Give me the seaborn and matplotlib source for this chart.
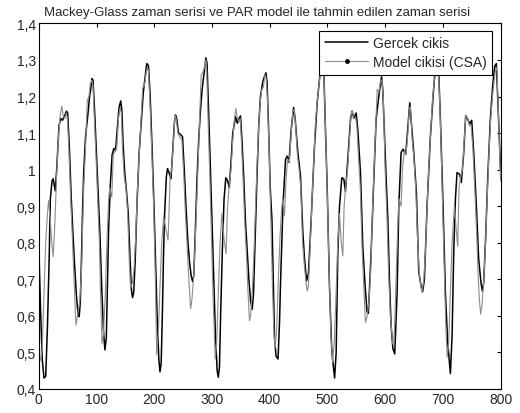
import numpy as np
import pandas as pd
import seaborn as sns
import matplotlib.pyplot as plt
from matplotlib.lines import Line2D
from matplotlib.ticker import FuncFormatter

# values (time step, value)
gercek_t = [0, 3, 6, 9, 12, 15, 18, 20, 23, 25, 28.5, 31, 35, 38, 41, 44, 48, 50, 53, 56, 59, 62, 65, 68, 70,
            72, 74, 76, 78, 81, 85, 88, 90, 92, 94, 97, 100, 103, 106, 109, 112, 114.5, 117, 119, 121, 124, 127,
            130, 133, 136, 139, 142, 144, 146, 149, 152, 155, 158, 160.5, 162.5, 164.5, 167, 170, 174, 178, 181,
            184, 187, 190, 193, 196, 199, 202, 205, 208, 210, 212, 214, 216, 218, 221, 223, 226, 229, 232, 235,
            237, 239, 242, 245, 249, 252, 255, 258, 261, 264, 266.5, 268.5, 271, 274, 277, 280, 283, 286, 289.5,
            291.5, 294, 297, 300, 303, 306, 309, 311, 313, 315, 318, 321, 324, 327, 330, 333, 336, 341, 344, 347,
            349.5, 352, 355, 358, 361, 364, 367, 369.7, 372, 375, 378, 381, 384, 388, 391, 393.5, 395.5, 398, 401,
            404, 408.4, 411, 414.5, 417, 419, 423, 427.5, 430.4, 433.5, 437.3, 441.5, 444.2, 448.8, 453.4, 457.5,
            460.4, 464, 467.3, 471.9, 477.7, 482.3, 486.3, 490.5, 494, 496.1, 499.6, 503.6, 507.7, 512.5, 515.2,
            518.1, 521, 525, 528.5, 531.3, 535.4, 540, 542.9, 545.8, 549.8, 552.7, 557.3, 561.3, 565.4, 568.8,
            571, 575.8, 580.4, 584.4, 589, 593.8, 595.9, 601.7, 604.6, 607.5, 610.4, 613.5, 616.7, 620.8, 623.7,
            627.7, 631.2, 635.8, 639.2, 642.7, 645, 649.6, 654.2, 658.3, 662.3, 665, 668.1, 672.7, 678.5, 683.1,
            686, 689.5, 693, 695.8, 700.4, 704.4, 708.5, 713.1, 716, 718.9, 721.8, 724.6, 729.3, 732.1, 736.2,
            739.6, 743.1, 746.6, 750, 753.5, 758.1, 762.1, 766.2, 768.5, 770.8, 774.3, 777.7, 782.3, 786.4,
            789.8, 792.7, 795.6, 800]
gercek_v = [0.79, 0.62, 0.48, 0.43, 0.435, 0.57, 0.76, 0.92, 0.97, 0.975, 0.942, 1.0, 1.12, 1.14, 1.135, 1.145,
            1.16, 1.155, 1.06, 0.93, 0.83, 0.74, 0.66, 0.605, 0.598, 0.64, 0.76, 0.9, 1.0, 1.09, 1.15, 1.2, 1.22,
            1.249, 1.245, 1.15, 1.04, 0.93, 0.82, 0.68, 0.56, 0.507, 0.54, 0.69, 0.84, 0.96, 1.04, 1.058, 1.052,
            1.11, 1.17, 1.188, 1.16, 1.07, 0.99, 0.94, 0.88, 0.76, 0.67, 0.65, 0.665, 0.75, 0.9, 1.05, 1.14, 1.21,
            1.25, 1.29, 1.285, 1.2, 1.07, 0.93, 0.77, 0.6, 0.48, 0.447, 0.47, 0.6, 0.76, 0.88, 0.98, 1.003, 0.99,
            0.975, 1.05, 1.13, 1.15, 1.14, 1.1, 1.097, 1.09, 1.0, 0.9, 0.81, 0.75, 0.71, 0.694, 0.71, 0.82, 0.97,
            1.08, 1.16, 1.22, 1.26, 1.306, 1.29, 1.17, 1.02, 0.86, 0.7, 0.55, 0.45, 0.432, 0.46, 0.6, 0.78, 0.92,
            0.978, 0.97, 0.951, 1.02, 1.1, 1.145, 1.127, 1.14, 1.147, 1.08, 0.98, 0.86, 0.78, 0.7, 0.64, 0.618,
            0.66, 0.82, 0.98, 1.12, 1.2, 1.24, 1.255, 1.265, 1.24, 1.12, 0.95, 0.86, 0.54, 0.49, 0.482, 0.58,
            0.70, 0.90, 1.028, 1.037, 1.02, 1.11, 1.17, 1.138, 1.047, 0.983, 0.828, 0.755, 0.696, 0.718, 0.864,
            1.065, 1.183, 1.247, 1.30, 1.26, 1.138, 0.955, 0.68, 0.5, 0.43, 0.5, 0.775, 0.90, 0.978, 0.974, 0.94,
            1.028, 1.138, 1.16, 1.14, 1.155, 1.11, 0.992, 0.79, 0.68, 0.61, 0.607, 0.775, 0.974, 1.138, 1.2,
            1.254, 1.22, 0.98, 0.87, 0.70, 0.573, 0.51, 0.496, 0.664, 0.9, 1.047, 1.056, 1.042, 1.11, 1.183,
            1.138, 1.047, 0.937, 0.72, 0.682, 0.666, 0.70, 0.90, 1.092, 1.2, 1.26, 1.29, 1.26, 1.138, 0.90,
            0.664, 0.527, 0.442, 0.545, 0.775, 0.92, 0.992, 0.987, 0.965, 1.047, 1.147, 1.138, 1.125, 1.135,
            1.047, 0.90, 0.755, 0.69, 0.668, 0.69, 0.82, 0.974, 1.138, 1.23, 1.283, 1.29, 1.174, 1.0]

model_t = [0, 2, 4, 6, 9, 12, 15, 17, 20, 23, 25, 28, 31, 34, 37, 40, 42, 45, 48, 50, 52, 55, 58, 61, 64.4, 67,
           71, 74, 76, 78, 81, 84, 87, 89, 92, 94, 96, 99, 102, 105, 107, 109.5, 112, 115, 118, 121, 123, 126.5,
           129, 132, 135, 138, 141, 143, 145, 148, 151, 154, 157, 159, 162, 165, 168, 171, 174, 177, 180, 183,
           186, 188.5, 190, 193, 196, 199, 202, 204.2, 207, 210, 213, 216.2, 220, 224, 227.5, 230, 233, 236, 238,
           241, 244, 248, 251, 254, 257, 260, 263, 265, 268, 271, 274, 277, 279, 281.4, 284, 287, 289.5, 291,
           293, 296, 299, 302, 305.6, 308, 311, 314, 317.2, 321, 324.5, 327, 330, 333, 336, 339, 341.4, 344, 347,
           349, 351, 354, 357, 360, 362, 365, 367, 370, 373, 376, 379, 382, 384, 386.4, 389, 392, 394, 396, 399,
           402, 405, 407.5, 409.6, 412, 415, 418, 421, 423, 425.7, 428, 431, 434, 437, 440, 442.5, 445, 448, 451,
           454, 457, 460, 463, 465, 467, 470, 473, 476, 479, 482, 486, 490, 494, 497, 500, 503, 506, 509, 512,
           515, 518, 521, 524, 526.7, 529, 532, 535, 538, 541, 543, 546, 549, 551, 554, 557, 560, 563, 566, 569,
           572, 575, 578, 581, 584, 586.3, 589, 592, 594.5, 597, 600, 603, 606, 609, 613.3, 616, 619, 622, 624,
           627.7, 630, 633, 636, 639, 642, 644, 647, 650, 653, 656, 659, 662, 664, 667, 670, 673, 676, 679, 682,
           685, 689, 693, 696, 699, 702, 705, 707.4, 710, 713, 716, 720, 723, 725.8, 728, 731, 734, 737, 740,
           743, 746, 749, 752, 755, 758, 761, 763, 765.5, 768, 771, 774, 777, 780, 783, 786, 788, 791, 793.5,
           796, 800]
model_v = [0.55, 0.49, 0.477, 0.52, 0.66, 0.8, 0.88, 0.915, 0.86, 0.79, 0.762, 0.86, 0.99, 1.09, 1.15, 1.174,
           1.15, 1.14, 1.155, 1.13, 1.06, 0.93, 0.82, 0.7, 0.575, 0.6, 0.64, 0.72, 0.85, 0.96, 1.06, 1.19, 1.2,
           1.233, 1.245, 1.23, 1.15, 1.04, 0.92, 0.8, 0.66, 0.525, 0.55, 0.65, 0.8, 0.92, 0.95, 0.925, 1.04,
           1.05, 1.06, 1.14, 1.17, 1.155, 1.06, 0.98, 0.95, 0.88, 0.74, 0.675, 0.69, 0.73, 0.82, 0.95, 1.04,
           1.13, 1.224, 1.23, 1.265, 1.28, 1.27, 1.17, 1.04, 0.9, 0.7, 0.494, 0.55, 0.68, 0.8, 0.87, 0.84,
           0.807, 0.98, 1.0, 1.07, 1.15, 1.14, 1.1, 1.09, 1.08, 0.99, 0.88, 0.79, 0.7, 0.62, 0.64, 0.7, 0.8,
           0.93, 1.06, 1.16, 1.26, 1.265, 1.28, 1.3, 1.27, 1.15, 1.0, 0.82, 0.65, 0.482, 0.52, 0.66, 0.8, 0.88,
           0.81, 0.77, 0.9, 0.96, 1.0, 1.08, 1.14, 1.167, 1.14, 1.13, 1.14, 1.08, 0.97, 0.85, 0.76, 0.68, 0.587,
           0.6, 0.67, 0.78, 0.92, 1.05, 1.15, 1.19, 1.22, 1.225, 1.26, 1.25, 1.2, 1.06, 0.86, 0.67, 0.55, 0.513,
           0.56, 0.7, 0.82, 0.9, 0.92, 0.874, 0.96, 1.03, 1.02, 1.09, 1.16, 1.165, 1.12, 1.04, 1.0, 0.95, 0.8,
           0.74, 0.69, 0.668, 0.68, 0.78, 0.9, 1.01, 1.12, 1.18, 1.24, 1.29, 1.25, 1.1, 0.92, 0.72, 0.55, 0.473,
           0.53, 0.66, 0.8, 0.88, 0.8, 0.764, 0.9, 0.96, 1.0, 1.08, 1.15, 1.16, 1.14, 1.14, 1.12, 1.03, 0.95,
           0.79, 0.68, 0.582, 0.6, 0.64, 0.72, 0.88, 1.01, 1.13, 1.22, 1.21, 1.24, 1.245, 1.19, 1.0, 0.88, 0.72,
           0.6, 0.523, 0.55, 0.7, 0.85, 0.92, 0.9, 1.0, 1.05, 1.04, 1.09, 1.17, 1.17, 1.08, 1.03, 0.95, 0.82,
           0.72, 0.68, 0.664, 0.7, 0.78, 0.91, 1.02, 1.1, 1.19, 1.24, 1.28, 1.25, 1.12, 0.94, 0.75, 0.58, 0.487,
           0.52, 0.66, 0.8, 0.9, 0.84, 0.79, 0.95, 0.98, 1.0, 1.08, 1.15, 1.14, 1.12, 1.12, 1.06, 0.96, 0.85,
           0.72, 0.65, 0.605, 0.63, 0.7, 0.8, 0.93, 1.05, 1.14, 1.2, 1.23, 1.27, 1.28, 1.17, 0.97]

x_ticks = [0, 100, 200, 300, 400, 500, 600, 700, 800]
y_ticks = [0.4, 0.5, 0.6, 0.7, 0.8, 0.9, 1.0, 1.1, 1.2, 1.3, 1.4]

sns.set_style("white")
plt.rcParams['font.family'] = ['Liberation Sans', 'DejaVu Sans']

gercek = pd.DataFrame({'t': gercek_t, 'deger': gercek_v})
model = pd.DataFrame({'t': model_t, 'deger': model_v})

fig = plt.figure(figsize=(5.2, 4.14), dpi=100)
ax = fig.add_axes([0.0746, 0.058, 0.888, 0.883])

sns.lineplot(data=gercek, x='t', y='deger', ax=ax, color='black', lw=1.1, estimator=None, sort=False)
sns.lineplot(data=model, x='t', y='deger', ax=ax, color='#8c8c8c', lw=0.8, estimator=None, sort=False)

ax.set_xlim(0, 800)
ax.set_ylim(0.4, 1.4)
ax.set_xticks(x_ticks)
ax.set_yticks(y_ticks)
ax.yaxis.set_major_formatter(FuncFormatter(lambda v, p: f"{v:g}".replace('.', ',')))
ax.tick_params(direction='in', length=3, labelsize=10, top=True, right=True, color='black', pad=2)
ax.set_xlabel('')
ax.set_ylabel('')
for s in ax.spines.values():
    s.set_color('black')
    s.set_linewidth(0.8)

# title sits a bit left of the axes centre in the original
ax.set_title('Mackey-Glass zaman serisi ve PAR model ile tahmin edilen zaman serisi', fontsize=9.5, pad=6, x=0.472)

handles = [Line2D([], [], color='black', lw=1.1),
           Line2D([], [], color='#8c8c8c', lw=0.8, marker='.', markersize=5,
                  markerfacecolor='black', markeredgecolor='black')]
leg = ax.legend(handles, ['Gercek cikis', 'Model cikisi (CSA)'], loc='upper right',
                bbox_to_anchor=(0.982, 0.98), fontsize=10, fancybox=False, framealpha=1,
                edgecolor='black', handlelength=3.1, handletextpad=0.35, borderpad=0.4,
                labelspacing=0.35, borderaxespad=0)
leg.get_frame().set_linewidth(0.8)

fig.savefig('out.png', dpi=100)
